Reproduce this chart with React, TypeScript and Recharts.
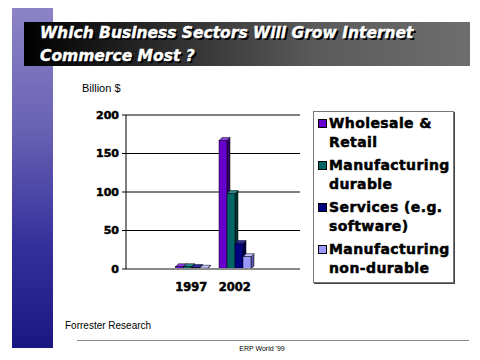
import React from 'react';
import { BarChart, Bar, XAxis, YAxis, CartesianGrid, Legend } from 'recharts';

// chart values (billion $)
const years = ['', '1997', '2002', ''];
const wholesale = [null, 3, 167, null];
const durable = [null, 3, 98, null];
const services = [null, 2, 33, null];
const nondurable = [null, 1, 16, null];
const yTicks = [0, 50, 100, 150, 200];

const series = [
  { key: 'wholesale', name: 'Wholesale & Retail', fill: '#6600cc', side: '#33006a', top: '#8a3ee0' },
  { key: 'durable', name: 'Manufacturing durable', fill: '#006666', side: '#003333', top: '#2a8a8a' },
  { key: 'services', name: 'Services (e.g. software)', fill: '#000080', side: '#000040', top: '#2a2aa0' },
  { key: 'nondurable', name: 'Manufacturing non-durable', fill: '#9999ff', side: '#5a5ab0', top: '#c0c0ff' },
];

const data = years.map((year, i) => ({
  year,
  wholesale: wholesale[i],
  durable: durable[i],
  services: services[i],
  nondurable: nondurable[i],
}));

const heavy = { fill: '#000', stroke: '#000', strokeWidth: 0.5, fontWeight: 'bold', fontFamily: '"DejaVu Sans", sans-serif' };

const Bar3D = (props: any) => {
  const { x, y, width, height, fill, side, top } = props;
  if (!height || height <= 0) return null;
  const d = 3;
  return (
    <g>
      <polygon
        points={`${x + width},${y} ${x + width + d},${y - d} ${x + width + d},${y + height - d} ${x + width},${y + height}`}
        fill={side}
        stroke="#000"
        strokeWidth={0.5}
      />
      <polygon
        points={`${x},${y} ${x + d},${y - d} ${x + width + d},${y - d} ${x + width},${y}`}
        fill={top}
        stroke="#000"
        strokeWidth={0.5}
      />
      <rect x={x} y={y} width={width} height={height} fill={fill} stroke="#000" strokeWidth={0.5} />
    </g>
  );
};

const renderLegend = () => (
  <div
    style={{
      width: 139,
      height: 168,
      border: '1px solid #777',
      boxShadow: '1px 1px 0 #444',
      background: '#fff',
      boxSizing: 'content-box',
      paddingTop: 2,
    }}
  >
    {series.map((s) => (
      <div key={s.key} style={{ display: 'flex', alignItems: 'flex-start', marginBottom: 4 }}>
        <div
          style={{
            width: 7,
            height: 7,
            background: s.fill,
            border: '1px solid #000',
            marginLeft: 4,
            marginTop: 5,
            marginRight: 2,
            flexShrink: 0,
          }}
        />
        <div
          style={{
            fontFamily: '"DejaVu Sans", sans-serif',
            fontWeight: 'bold',
            fontSize: 14,
            letterSpacing: 0.4,
            lineHeight: '19px',
            color: '#000',
            WebkitTextStroke: '0.5px #000',
            width: 126,
          }}
        >
          {s.name}
        </div>
      </div>
    ))}
  </div>
);

export default function App() {
  return (
    <div
      style={{
        position: 'absolute',
        left: 0,
        top: 0,
        width: 480,
        height: 360,
        overflow: 'hidden',
        background: '#fff',
        fontFamily: '"Liberation Sans", Arial, sans-serif',
      }}
    >
      <div
        style={{
          position: 'absolute',
          left: 12,
          top: 8,
          width: 41,
          height: 340,
          background: 'linear-gradient(to bottom, #8c84c6 0%, #6a62b4 35%, #34309a 70%, #1a1880 100%)',
        }}
      />
      <div
        style={{
          position: 'absolute',
          left: 24,
          top: 22,
          width: 446,
          height: 44,
          background: 'linear-gradient(to right, #000 0%, #2a2a2a 30%, #5a5a5a 65%, #6e6e6e 100%)',
        }}
      />
      <div
        style={{
          position: 'absolute',
          left: 40,
          top: 22,
          color: '#fff',
          fontFamily: '"DejaVu Sans", sans-serif',
          fontWeight: 'bold',
          fontStyle: 'italic',
          fontSize: 15.5,
          lineHeight: '23px',
          WebkitTextStroke: '0.4px #fff',
          textShadow: '1px 1px 0 #000, 2px 2px 0 #000',
          whiteSpace: 'nowrap',
        }}
      >
        Which Business Sectors Will Grow Internet
        <br />
        Commerce Most ?
      </div>
      <div style={{ position: 'absolute', left: 82, top: 82, fontSize: 11, color: '#000' }}>Billion $</div>

      <div style={{ position: 'absolute', left: 0, top: 0 }}>
        <BarChart
          width={480}
          height={360}
          data={data}
          margin={{ top: 115, right: 180, bottom: 71, left: 0 }}
          barCategoryGap={6}
          barGap={0}
        >
          <CartesianGrid horizontal vertical={false} stroke="#000" strokeWidth={1} />
          <XAxis
            dataKey="year"
            height={20}
            axisLine={{ stroke: '#8a8a8a', strokeWidth: 2 }}
            tickLine={false}
            tickMargin={8}
            tick={{ ...heavy, fontSize: 11.5 }}
            interval={0}
          />
          <YAxis
            width={126}
            domain={[0, 200]}
            ticks={yTicks}
            axisLine={{ stroke: '#000' }}
            tickLine={{ stroke: '#000' }}
            tickSize={4}
            tickMargin={3}
            tick={{ ...heavy, fontSize: 11 }}
          />
          <Legend
            layout="vertical"
            align="center"
            verticalAlign="middle"
            content={renderLegend}
            wrapperStyle={{ position: 'absolute', left: 313, top: 111, width: 141, height: 171 }}
          />
          {series.map((s) => (
            <Bar
              key={s.key}
              dataKey={s.key}
              name={s.name}
              fill={s.fill}
              isAnimationActive={false}
              shape={(p: any) => <Bar3D {...p} fill={s.fill} side={s.side} top={s.top} />}
            />
          ))}
        </BarChart>
      </div>

      <div style={{ position: 'absolute', left: 65, top: 320, fontSize: 10, color: '#000' }}>Forrester Research</div>
      <div style={{ position: 'absolute', left: 77, top: 340, width: 392, height: 1, background: '#888' }} />
      <div
        style={{ position: 'absolute', left: 0, width: 524, top: 345, fontSize: 7, color: '#000', textAlign: 'center' }}
      >
        ERP World '99
      </div>
    </div>
  );
}
